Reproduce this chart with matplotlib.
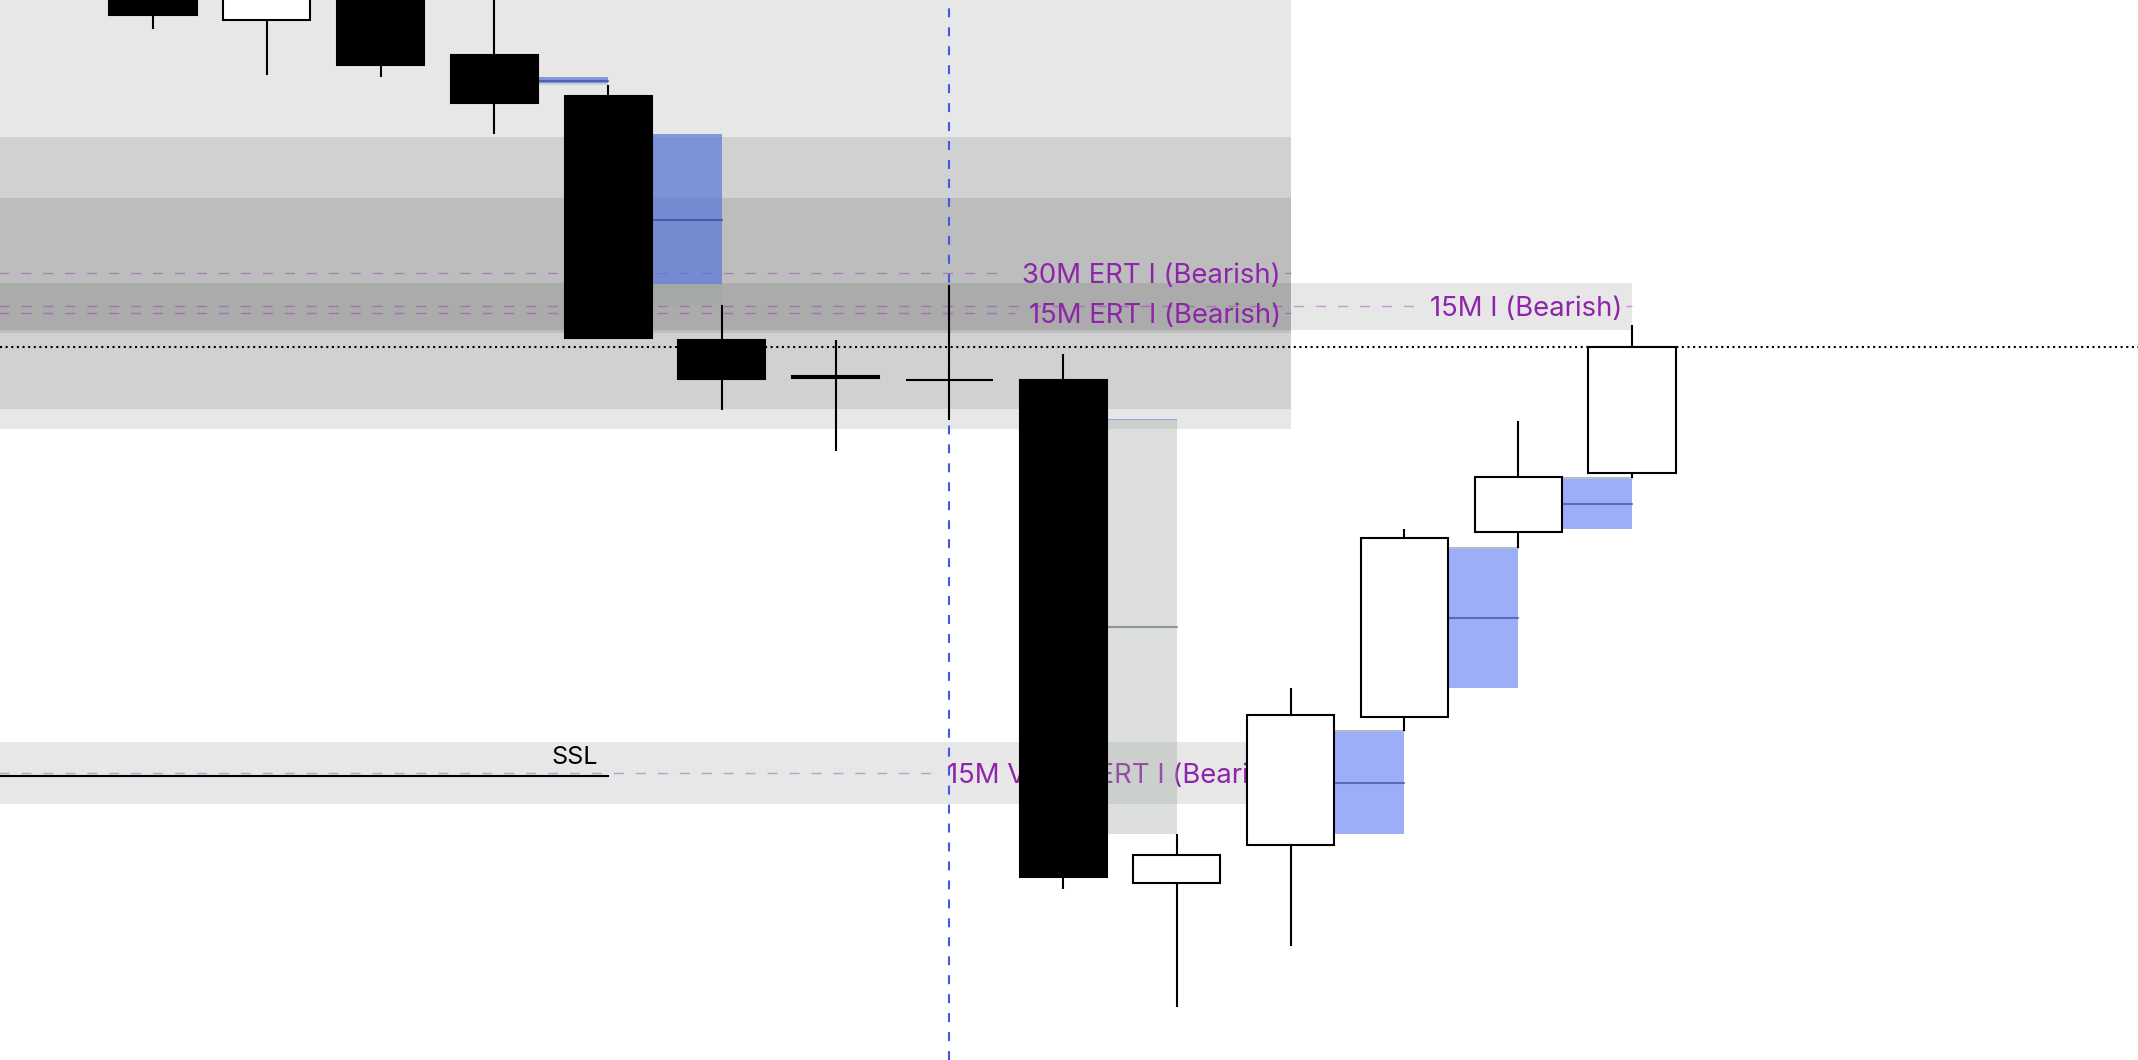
import numpy as np
import matplotlib.pyplot as plt
from matplotlib.patches import Rectangle

plt.rcParams['font.family'] = ['Inter', 'DejaVu Sans']

# candles, oldest first (price)
opens = [21510, 21495, 21505, 21486.25, 21476, 21415, 21406, 21405, 21405,
         21279.25, 21288.75, 21320.75, 21367, 21381.75]
highs = [21515, 21512.5, 21510, 21502.5, 21478.75, 21423.75, 21415, 21428.75, 21411.5,
         21291.5, 21328, 21367.75, 21394.75, 21418.75]
lows = [21492.75, 21481.25, 21480.75, 21466.5, 21415.5, 21397.5, 21387.25, 21395, 21277.75,
        21248.25, 21263.5, 21317.25, 21363, 21380.5]
closes = [21496.25, 21507.5, 21483.75, 21474.25, 21415.5, 21405.25, 21405.5, 21405, 21280.75,
          21286.25, 21321.25, 21365.5, 21380.75, 21413.25]

# grey zones: top, bottom, bar where they stop
zone_top = [21520, 21465.75, 21450.5, 21429.25, 21314.5]
zone_bottom = [21392.75, 21397.75, 21416.75, 21417.5, 21299]
zone_end = [10, 10, 10, 13, 10]

# labelled levels
level_names = ['30M ERT I (Bearish)', '15M ERT I (Bearish)', '15M I (Bearish)',
               '15M VWAP ERT I (Bearish)']
level_prices = [21431.75, 21421.75, 21423.5, 21306.75]
level_end = [10, 10, 13, 10]
label_x = [10, 10, 13, 7]
label_side = ['right', 'right', 'right', 'left']

# fair value gaps (middle bar of the 3-bar pattern)
bear_fvg_bar = [3, 4, 8]
bear_fvg_fill = [21479.3, 21429.0, 21395.25]
bull_fvg_bar = [10, 11, 12]

ssl_price = 21306
ssl_end = 4
marker_bar = 7

purple = '#8e24aa'
blue = '#4064f0'
fs = 19.8

fig = plt.figure(figsize=(21.38, 10.6), dpi=100, facecolor='white')
ax = fig.add_axes([0, 0, 1, 1])
ax.set_xlim(-1.3448, 17.4475)
ax.set_ylim(21235, 21500)
ax.axis('off')

x0 = -3
for top, bot, end in zip(zone_top, zone_bottom, zone_end):
    ax.add_patch(Rectangle((x0, bot), end - x0, top - bot, facecolor='black',
                           alpha=0.093, lw=0, zorder=1))

# last price
ax.axhline(closes[-1], color='black', lw=1.5, ls=(0, (1, 1.7)), zorder=2)

# vertical marker
ax.axvline(marker_bar, color='#3b5ce6', lw=1.5, ls=(0, (4.3, 4.8)), zorder=2.5)

# labels first so the lines can stop in front of them
texts = []
for name, p, lx, side in zip(level_names, level_prices, label_x, label_side):
    off = -7 if side == 'right' else -2
    t = ax.annotate(name, (lx, p), xytext=(off, -7.2), textcoords='offset points',
                    ha=side, va='baseline', fontsize=fs, color=purple, zorder=3)
    texts.append(t)

fig.canvas.draw()
inv = ax.transData.inverted()
for t, p, end in zip(texts, level_prices, level_end):
    bb = t.get_window_extent()
    left = inv.transform((bb.x0 - 14, 0))[0]
    right = inv.transform((bb.x1 + 4, 0))[0]
    ax.plot([x0, left], [p, p], color=purple, alpha=0.4, lw=1,
            ls=(0, (7.2, 8.6)), zorder=2)
    if right < end:
        ax.plot([right, end], [p, p], color=purple, alpha=0.4, lw=1,
                ls=(0, (7.2, 8.6)), zorder=2)

# SSL
ax.plot([x0, ssl_end], [ssl_price, ssl_price], color='black', lw=1.5, zorder=2.6)
ax.annotate('SSL', (ssl_end, ssl_price), xytext=(-7, 9), textcoords='offset points',
            ha='right', va='baseline', fontsize=18, color='black', zorder=3)

# bearish gaps
for b, fill in zip(bear_fvg_bar, bear_fvg_fill):
    top, bot = lows[b - 1], highs[b + 1]
    ax.add_patch(Rectangle((b, bot), 1, top - bot, facecolor='#9ba69b',
                           alpha=0.35, lw=0, zorder=4))
    ax.add_patch(Rectangle((b, fill), 1, top - fill, facecolor=blue,
                           alpha=0.52, lw=0, zorder=4.1))
    mid = (top + bot) / 2
    col = '#21378e' if mid > fill else '#555a55'
    ax.plot([b, b + 1], [mid, mid], color=col, alpha=0.55, lw=1.5, zorder=4.2)

# bullish gaps
for b in bull_fvg_bar:
    bot, top = highs[b - 1], lows[b + 1]
    ax.add_patch(Rectangle((b, bot), 1, top - bot, facecolor=blue,
                           alpha=0.52, lw=0, zorder=4))
    ax.plot([b, b + 1], [top, top], color='#b4bccc', lw=1.5, zorder=4.1)
    mid = (top + bot) / 2
    ax.plot([b, b + 1], [mid, mid], color='#21378e', alpha=0.55, lw=1.5, zorder=4.2)

# candles
w = 0.765
for i, (o, h, l, c) in enumerate(zip(opens, highs, lows, closes)):
    ax.plot([i, i], [l, h], color='black', lw=1.5, zorder=5, solid_capstyle='butt')
    face = 'white' if c > o else 'black'
    ax.add_patch(Rectangle((i - w / 2, min(o, c)), w, abs(c - o), facecolor=face,
                           edgecolor='black', lw=1.5, zorder=6))

fig.savefig('out.png', dpi=100, facecolor='white')
